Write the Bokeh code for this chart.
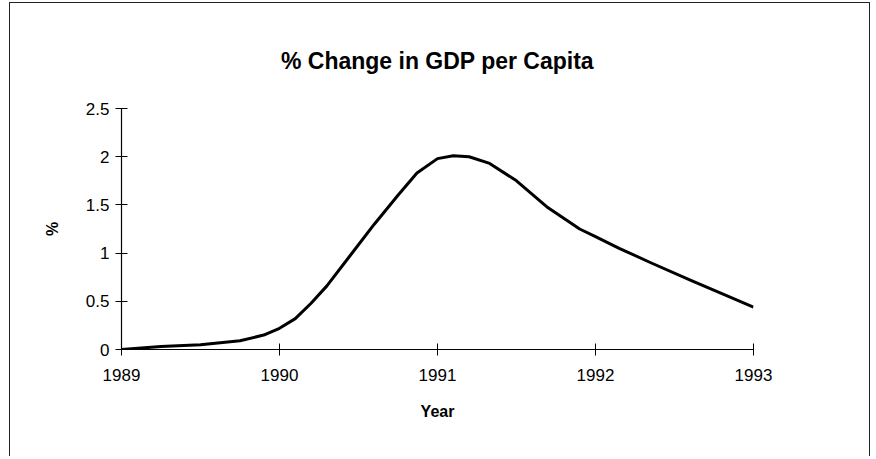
from bokeh.plotting import figure
from bokeh.models import FixedTicker, Title
from bokeh.embed import file_html
from bokeh.resources import INLINE

# Data
years = [1989.0, 1989.25, 1989.5, 1989.75, 1989.9, 1990.0, 1990.1, 1990.2, 1990.3,
         1990.45, 1990.6, 1990.75, 1990.87, 1991.0, 1991.1, 1991.2, 1991.33, 1991.5,
         1991.7, 1991.9, 1992.0, 1992.15, 1992.35, 1992.6, 1992.8, 1993.0]
pct = [0.0, 0.03, 0.05, 0.09, 0.15, 0.22, 0.32, 0.48, 0.66,
       0.98, 1.30, 1.60, 1.83, 1.98, 2.01, 2.0, 1.93, 1.75,
       1.47, 1.25, 1.17, 1.05, 0.90, 0.72, 0.58, 0.44]
x_ticks = [1989, 1990, 1991, 1992, 1993]
x_tick_labels = ["1989", "1990", "1991", "1992", "1993"]
y_ticks = [0, 0.5, 1, 1.5, 2, 2.5]
y_tick_labels = ["0", "0.5", "1", "1.5", "2", "2.5"]

FONT = "Liberation Sans"

p = figure(width=861, height=454, output_backend="svg", toolbar_location=None,
           x_range=(1989, 1993), y_range=(0, 2.5))
p.min_border_left = 111
p.min_border_right = 118
p.min_border_top = 105
p.min_border_bottom = 108
p.outline_line_color = None
p.xgrid.visible = False
p.ygrid.visible = False
p.styles = {"border-top": "1px solid #222", "border-left": "1px solid #222",
            "border-right": "1px solid #222", "margin-left": "9px",
            "margin-top": "2px"}

t = Title(text="% Change in GDP per Capita", align="center",
          text_font=FONT, text_font_size="23px", text_font_style="bold",
          text_color="black", standoff=70, offset=12)
p.add_layout(t, "above")

p.line(years, pct, line_color="black", line_width=3, line_join="round")

p.xaxis.ticker = FixedTicker(ticks=x_ticks)
p.xaxis.major_label_overrides = {k: v for k, v in zip(x_ticks, x_tick_labels)}
p.yaxis.ticker = FixedTicker(ticks=y_ticks)
p.yaxis.major_label_overrides = {k: v for k, v in zip(y_ticks, y_tick_labels)}

for ax in (p.xaxis, p.yaxis):
    ax.axis_line_color = "black"
    ax.axis_line_width = 1.2
    ax.major_tick_line_color = "black"
    ax.major_tick_in = 6
    ax.major_tick_out = 6
    ax.minor_tick_line_color = None
    ax.major_label_text_font = FONT
    ax.major_label_text_font_size = "17px"
    ax.major_label_text_color = "black"
    ax.axis_label_text_font = FONT
    ax.axis_label_text_font_style = "bold"
    ax.axis_label_text_font_size = "16px"
    ax.axis_label_text_color = "black"

p.xaxis.axis_label = "Year"
p.xaxis.major_label_standoff = 13
p.xaxis.axis_label_standoff = 19
p.yaxis.axis_label = "%"
p.yaxis.major_label_standoff = 6
p.yaxis.axis_label_standoff = 22

open("out.html", "w").write(file_html(p, INLINE))
